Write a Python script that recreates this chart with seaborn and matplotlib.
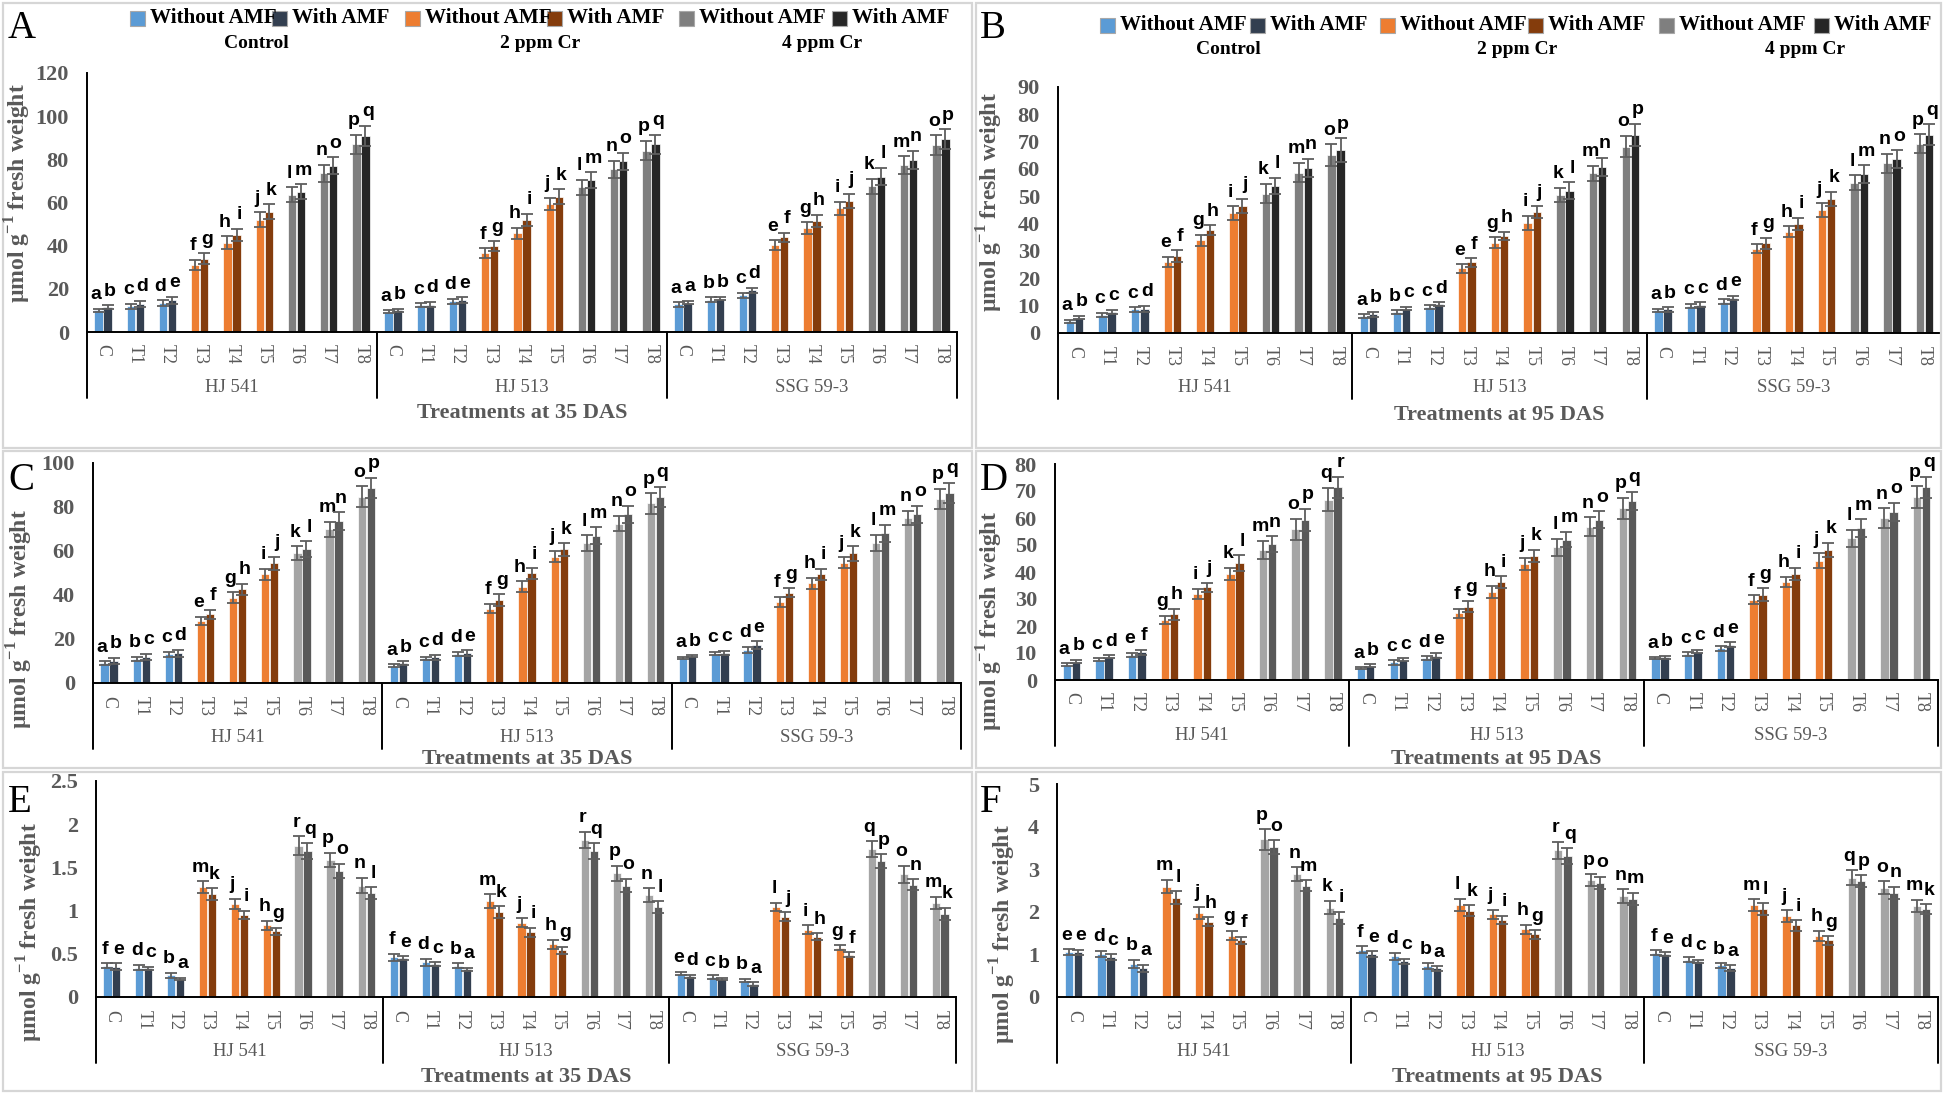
import matplotlib
matplotlib.use("Agg")
import numpy as np
import pandas as pd
import matplotlib.pyplot as plt
import seaborn as sns
from matplotlib.patches import Rectangle
from matplotlib.lines import Line2D
from matplotlib.container import BarContainer
import matplotlib.transforms as mtransforms

sns.set_theme(style="white")
plt.rcParams['font.family'] = ['Liberation Serif', 'DejaVu Serif']
plt.rcParams['mathtext.fontset'] = 'custom'
plt.rcParams['mathtext.rm'] = 'Liberation Serif:bold'
plt.rcParams['mathtext.bf'] = 'Liberation Serif:bold'

# ---------------- data ----------------
treatments = ["C", "T1", "T2", "T3", "T4", "T5", "T6", "T7", "T8"]
cultivars = ["HJ 541", "HJ 513", "SSG 59-3"]
cr_levels = ["Control", "2 ppm Cr", "4 ppm Cr"]
amf = ["Without AMF", "With AMF"]

A_without = [10, 12, 13.5, 31, 41.3, 52, 63.5, 73.5, 87,
             9.3, 12.4, 14.2, 36.4, 45.7, 59.3, 67, 75.4, 84,
             12.8, 15, 17, 40.2, 48, 57.3, 67.6, 77.4, 86.7]
A_with = [11.5, 13, 14.7, 34, 45, 55.7, 65, 77, 91,
          10, 12.7, 14.7, 39.8, 51.9, 62.7, 70.4, 79, 87,
          13.6, 15.5, 19.3, 43.8, 51.5, 60.7, 72, 79.7, 89.3]
A_err_without = [0.8, 1.2, 1.3, 2.5, 3.0, 3.5, 3.5, 4.0, 4.5,
                 0.7, 1.0, 1.2, 2.3, 2.7, 3.0, 3.5, 4.0, 4.5,
                 1.0, 1.0, 1.3, 2.2, 2.8, 3.0, 3.5, 4.0, 4.5]
A_err_with = [0.8, 1.4, 1.5, 2.4, 2.8, 3.5, 3.5, 4.0, 4.6,
              0.8, 1.2, 1.4, 2.3, 3.0, 3.4, 3.5, 4.0, 4.5,
              0.8, 0.9, 1.2, 2.3, 2.8, 3.3, 4.0, 4.2, 4.7]
A_let_without = "acdfhjlnp" + "acdfhjlnp" + "abcegikmo"
A_let_with = "bdegikmoq" + "bdegikmoq" + "abdfhjlnp"

B_without = [4.3, 6.7, 8.6, 26, 34, 43.8, 51, 58.7, 65,
             6.1, 7.7, 9.5, 23.6, 33, 40.3, 50.5, 58.4, 68.2,
             8.3, 9.9, 11.4, 30.9, 37, 45, 55, 62.1, 69.2]
B_with = [5.6, 7.7, 8.8, 28.1, 37.7, 46.5, 53.8, 60.5, 67,
          6.8, 8.9, 10.5, 25.8, 35.5, 44.3, 52, 60.9, 72.5,
          8.6, 10.4, 12.8, 32.8, 40, 49, 58.2, 63.6, 72.5]
B_err_without = [0.6, 0.8, 0.8, 1.8, 2.0, 2.5, 3.5, 3.6, 4.0,
                 0.7, 0.6, 0.7, 1.6, 2.0, 2.5, 2.6, 2.7, 3.9,
                 0.5, 0.7, 0.9, 1.5, 2.0, 2.4, 2.7, 3.5, 3.5]
B_err_with = [0.6, 0.7, 1.1, 2.2, 1.7, 2.6, 3.0, 3.3, 4.3,
              1.0, 0.6, 0.7, 1.5, 1.6, 2.1, 3.1, 3.3, 4.0,
              0.8, 0.8, 0.9, 2.0, 2.2, 2.6, 3.2, 3.2, 3.8]
B_let_without = "accegikmo" + "abcegikmo" + "acdfhjlnp"
B_let_with = "bcdfhjlnp" + "bcdfhjlnp" + "bcegikmoq"

C_without = [9, 10.9, 13.1, 28.2, 38.8, 49.4, 58.9, 69.8, 84.6,
             7.9, 11.3, 13.1, 33.8, 43.8, 57.4, 63.7, 72.5, 81.6,
             11.3, 13.4, 15.1, 36.9, 45.3, 54.7, 63.7, 75.1, 83.7]
C_with = [10.1, 11.9, 13.6, 31.3, 42.6, 54.4, 61, 73.6, 88.7,
          9, 11.6, 13.6, 37.8, 49.8, 60.7, 67, 76.6, 84.6,
          12.1, 13.6, 17.2, 41.1, 49.4, 58.9, 68, 76.6, 86.4]
C_err_without = [0.9, 1.0, 1.2, 1.8, 2.5, 2.5, 3.2, 3.5, 4.8,
                 0.6, 0.7, 1.0, 2.1, 2.5, 2.6, 3.5, 3.5, 4.6,
                 0.5, 0.8, 1.3, 2.3, 2.6, 2.5, 3.7, 3.3, 4.5]
C_err_with = [1.3, 1.5, 1.6, 2.0, 2.5, 3.0, 3.5, 4.0, 4.7,
              0.8, 1.2, 1.2, 2.6, 2.4, 2.8, 3.8, 4.0, 4.6,
              0.5, 1.0, 1.7, 1.9, 2.5, 3.3, 4.0, 4.0, 4.6]
C_let_without = "abcegikmo" + "acdfhjlnp" + "acdfhjlnp"
C_let_with = "bcdfhjlnp" + "bdegikmoq" + "bcegikmoq"

D_without = [5.7, 7.5, 9.3, 22.3, 31.9, 39.3, 48.3, 55.9, 66.8,
             4.3, 6.5, 8.1, 24.7, 32.5, 43, 49.1, 56.8, 63.6,
             8, 9.6, 11.7, 29.8, 36.4, 44.2, 52.5, 59.9, 67.7]
D_with = [6.8, 8.6, 10.2, 24.4, 34.3, 43.3, 50.4, 59.4, 71.4,
          5.3, 7.5, 9, 27.2, 36.2, 46, 52, 59.4, 66.4,
          8.4, 10.5, 13.1, 31.6, 39.3, 48.1, 56.2, 62.3, 71.4]
D_err_without = [0.5, 0.6, 0.7, 1.5, 1.8, 2.3, 3.3, 3.9, 4.3,
                 0.4, 0.8, 0.7, 1.7, 2.3, 2.3, 3.2, 3.5, 3.9,
                 0.4, 0.6, 0.8, 1.6, 1.9, 2.8, 3.2, 3.7, 4.0]
D_err_with = [0.6, 0.6, 0.9, 2.0, 1.7, 2.9, 2.9, 4.1, 3.9,
              0.5, 0.6, 0.9, 1.9, 2.2, 2.3, 2.8, 3.1, 3.3,
              0.5, 0.6, 0.8, 2.3, 2.3, 2.7, 3.4, 3.3, 3.9]
D_let_without = "acegikmoq" + "acdfhjlnp" + "acdfhjlnp"
D_let_with = "bdfhjlnpr" + "bcegikmoq" + "bcegikmoq"

E_without = [0.36, 0.34, 0.25, 1.27, 1.08, 0.83, 1.75, 1.59, 1.29,
             0.46, 0.40, 0.36, 1.11, 0.86, 0.61, 1.82, 1.43, 1.18,
             0.27, 0.23, 0.19, 1.04, 0.78, 0.57, 1.71, 1.42, 1.09]
E_with = [0.35, 0.33, 0.21, 1.19, 0.95, 0.76, 1.69, 1.46, 1.20,
          0.45, 0.38, 0.32, 0.98, 0.75, 0.54, 1.69, 1.29, 1.04,
          0.24, 0.21, 0.15, 0.93, 0.70, 0.49, 1.57, 1.30, 0.96]
E_err_without = [0.03, 0.03, 0.03, 0.07, 0.06, 0.05, 0.11, 0.08, 0.09,
                 0.04, 0.04, 0.03, 0.08, 0.05, 0.05, 0.09, 0.09, 0.08,
                 0.02, 0.02, 0.02, 0.05, 0.05, 0.03, 0.09, 0.10, 0.07]
E_err_with = [0.04, 0.02, 0.01, 0.07, 0.05, 0.04, 0.09, 0.08, 0.07,
              0.02, 0.02, 0.02, 0.07, 0.05, 0.04, 0.09, 0.08, 0.07,
              0.02, 0.01, 0.02, 0.05, 0.04, 0.03, 0.08, 0.06, 0.07]
E_let_without = "fdbmjhrpn" + "fdbmjhrpn" + "ecbligqom"
E_let_with = "ecakigqol" + "ecakigqol" + "dbajhfpnk"

F_without = [1.05, 1.01, 0.78, 2.59, 1.98, 1.44, 3.70, 2.88, 2.10,
             1.11, 0.96, 0.72, 2.17, 1.94, 1.59, 3.45, 2.74, 2.37,
             1.04, 0.88, 0.74, 2.15, 1.90, 1.44, 2.80, 2.57, 2.14]
F_with = [1.05, 0.94, 0.67, 2.33, 1.77, 1.33, 3.52, 2.61, 1.86,
          1.01, 0.84, 0.67, 2.02, 1.81, 1.47, 3.31, 2.68, 2.31,
          1.01, 0.84, 0.68, 2.06, 1.68, 1.33, 2.72, 2.45, 2.06]
F_err_without = [0.07, 0.08, 0.09, 0.16, 0.14, 0.11, 0.24, 0.16, 0.16,
                 0.08, 0.08, 0.07, 0.14, 0.11, 0.11, 0.20, 0.14, 0.16,
                 0.06, 0.07, 0.05, 0.14, 0.14, 0.12, 0.17, 0.15, 0.14]
F_err_with = [0.06, 0.06, 0.08, 0.15, 0.10, 0.09, 0.16, 0.13, 0.14,
              0.06, 0.06, 0.05, 0.13, 0.10, 0.10, 0.18, 0.14, 0.14,
              0.04, 0.04, 0.06, 0.14, 0.12, 0.10, 0.14, 0.14, 0.12]
F_let_without = "edbmjgpnk" + "fdbljhrpn" + "fdbmjhqom"
F_let_with = "ecalhfomi" + "ecakigqom" + "ecaligpnk"

# ---------------- style ----------------
W, H, DPI = 1944, 1094, 100
GRAY_TXT = "#595959"
col_ctrl = ("#5B9BD5", "#333F50")
col_cr2 = ("#ED7D31", "#843C0C")
col_cr4_dark = ("#7F7F7F", "#262626")
col_cr4_light = ("#A5A5A5", "#595959")


def fx(x):
    return x / W


def fy(y):
    return 1 - y / H


fig = plt.figure(figsize=(W / DPI, H / DPI), dpi=DPI)
fig.patch.set_facecolor("white")

# panel frames
for (x0, y0, x1, y1) in [(3, 3, 972, 448), (976, 3, 1941, 448),
                         (3, 451, 972, 768), (976, 451, 1941, 768),
                         (3, 772, 972, 1091), (976, 772, 1941, 1091)]:
    fig.add_artist(Rectangle((fx(x0), fy(y1)), fx(x1 - x0), (y1 - y0) / H,
                             transform=fig.transFigure, fill=False,
                             edgecolor="#D6D6D6", lw=1.6))


def draw_panel(rect, without, with_, err_wo, err_w, let_wo, let_w,
               ymax, ystep, cr4, letter, ylab_xy, das, title_y, letter_xy):
    l, t, r, b = rect
    ax = fig.add_axes([fx(l), fy(b), fx(r - l), (b - t) / H])
    ax.set_facecolor("none")
    n = len(without)
    df = pd.DataFrame({
        "pos": list(range(n)) * 2,
        "value": list(without) + list(with_),
        "amf": [amf[0]] * n + [amf[1]] * n,
    })
    sns.barplot(data=df, x="pos", y="value", hue="amf", hue_order=amf,
                dodge=True, width=0.56, gap=0.08, errorbar=None,
                legend=False, ax=ax, edgecolor="white", linewidth=0.5)
    palettes = [col_ctrl, col_cr2, cr4]
    errs = [err_wo, err_w]
    lets = [let_wo, let_w]
    bar_conts = [c for c in list(ax.containers) if isinstance(c, BarContainer)]
    for cont in bar_conts:
        for bar in cont:
            c = bar.get_x() + bar.get_width() / 2
            k = int(round(c))
            side = 0 if c < k else 1
            lvl = (k % 9) // 3
            bar.set_facecolor(palettes[lvl][side])
            h = bar.get_height()
            e = errs[side][k]
            ax.errorbar(c, h, yerr=e, fmt="none", ecolor="#5E5E5E",
                        elinewidth=1.3, capsize=4.5, capthick=1.3, zorder=3)
            ax.annotate(lets[side][k], (c, h + e),
                        xytext=(-1.8 if side == 0 else 1.8, 4),
                        textcoords="offset points", ha="center", va="bottom",
                        fontsize=14, fontweight="bold",
                        family=["Liberation Sans", "DejaVu Sans"],
                        color="black", annotation_clip=False)
    ax.set_xlim(-0.5, n - 0.5)
    ax.set_ylim(0, ymax)
    yt = np.arange(0, ymax + ystep / 2, ystep)
    ax.set_yticks(yt)
    ax.set_yticklabels([f"{v:g}" for v in yt], fontsize=16, fontweight="bold",
                       color=GRAY_TXT)
    ax.set_xticks(range(n))
    ax.set_xticklabels(treatments * 3, rotation=-90, fontsize=13,
                       color=GRAY_TXT, va="top", ha="center")
    ax.tick_params(axis="both", length=0)
    ax.tick_params(axis="y", pad=13)
    ax.tick_params(axis="x", pad=9)
    ax.set_xlabel("")
    ax.set_ylabel("")
    for s in ["top", "right"]:
        ax.spines[s].set_visible(False)
    for s in ["left", "bottom"]:
        ax.spines[s].set_color("black")
        ax.spines[s].set_linewidth(1.4)
    # group separators and cultivar labels
    hpx = b - t
    trans = mtransforms.blended_transform_factory(ax.transData, ax.transAxes)
    for xs in [-0.5, 8.5, 17.5, 26.5]:
        ax.add_line(Line2D([xs, xs], [0, -66 / hpx], transform=trans,
                           color="black", lw=1.4, clip_on=False))
    for gi, cv in enumerate(cultivars):
        ax.text(gi * 9 + 4, -55 / hpx, cv, transform=trans, ha="center",
                va="center", fontsize=13.5, color=GRAY_TXT)
    fig.text(fx((l + r) / 2), fy(title_y), f"Treatments at {das} DAS",
             ha="center", va="center", fontsize=16, fontweight="bold",
             color=GRAY_TXT)
    fig.text(fx(ylab_xy[0]), fy(ylab_xy[1]), r"µmol g$^{-1}$ fresh weight",
             rotation=90, ha="center", va="center", fontsize=17,
             fontweight="bold", color=GRAY_TXT)
    fig.text(fx(letter_xy[0]), fy(letter_xy[1]), letter, ha="left",
             va="center", fontsize=28, color="black")
    return ax


draw_panel((87, 73, 957, 332), A_without, A_with, A_err_without, A_err_with,
           A_let_without, A_let_with, 120, 20, col_cr4_dark, "A",
           (18, 193), 35, 413, (8, 28))
draw_panel((1058, 87, 1941, 333), B_without, B_with, B_err_without, B_err_with,
           B_let_without, B_let_with, 90, 10, col_cr4_dark, "B",
           (990, 202), 95, 415, (980, 28))
draw_panel((93, 463, 961, 683), C_without, C_with, C_err_without, C_err_with,
           C_let_without, C_let_with, 100, 20, col_cr4_light, "C",
           (20, 619), 35, 759, (8, 481))
draw_panel((1055, 464, 1938, 680), D_without, D_with, D_err_without, D_err_with,
           D_let_without, D_let_with, 80, 10, col_cr4_light, "D",
           (990, 621), 95, 759, (980, 481))
draw_panel((96, 781, 956, 997), E_without, E_with, E_err_without, E_err_with,
           E_let_without, E_let_with, 2.5, 0.5, col_cr4_light, "E",
           (30, 932), 35, 1077, (8, 803))
draw_panel((1057, 784, 1938, 997), F_without, F_with, F_err_without, F_err_with,
           F_let_without, F_let_with, 5, 1, col_cr4_light, "F",
           (1003, 934), 95, 1077, (980, 803))

# legends (top panels), drawn as key squares + labels
SQ = 15
legend_rows = [
    (18, [130, 272, 405, 547, 679, 832], [150, 292, 425, 567, 699, 852], 43, [256, 540, 822]),
    (25, [1100, 1250, 1380, 1528, 1659, 1814], [1120, 1270, 1400, 1548, 1679, 1834], 49, [1228, 1517, 1805]),
]
key_colors = [col_ctrl[0], col_ctrl[1], col_cr2[0], col_cr2[1], col_cr4_dark[0], col_cr4_dark[1]]
key_labels = amf * 3
for row_y, sq_x, tx_x, sub_y, sub_x in legend_rows:
    for sx, tx, colr, lab in zip(sq_x, tx_x, key_colors, key_labels):
        fig.add_artist(Rectangle((fx(sx), fy(row_y + SQ / 2)), SQ / W, SQ / H,
                                 transform=fig.transFigure, facecolor=colr,
                                 edgecolor="#A8A8A8", lw=0.8))
        fig.text(fx(tx), fy(row_y), lab, ha="left", va="center",
                 fontsize=15.2, fontweight="bold", color="black")
    for cx, lvl in zip(sub_x, cr_levels):
        fig.text(fx(cx), fy(sub_y), lvl, ha="center", va="center",
                 fontsize=14, fontweight="bold", color="black")

fig.savefig("out.png", dpi=DPI, facecolor="white")
